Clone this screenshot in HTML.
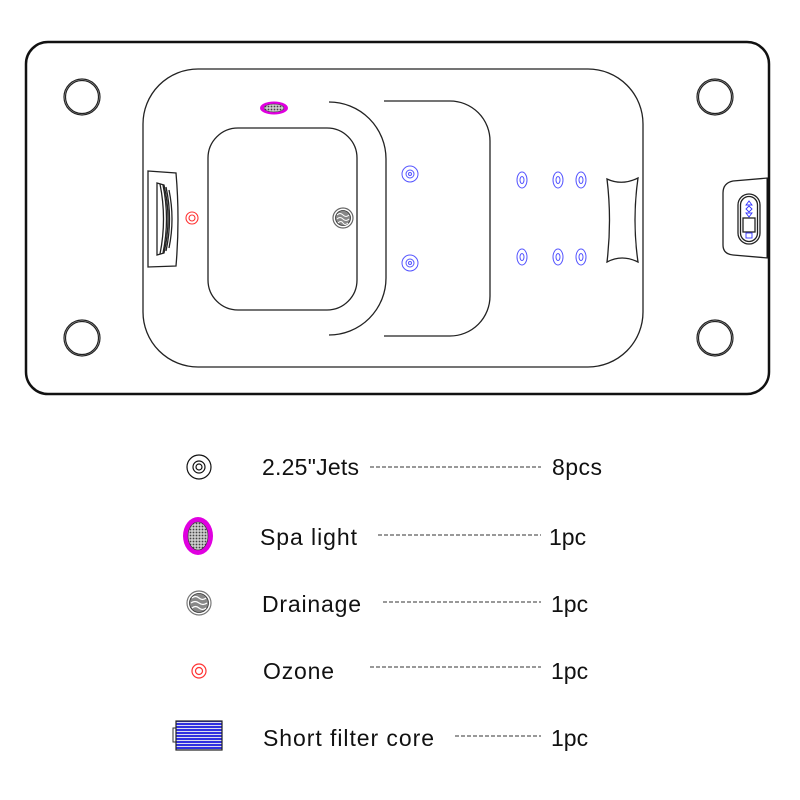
<!DOCTYPE html>
<html><head><meta charset="utf-8"><style>html,body{margin:0;padding:0;background:#fff}svg{display:block}</style></head><body>
<svg width="800" height="800" viewBox="0 0 800 800" xmlns="http://www.w3.org/2000/svg" font-family="Liberation Sans, sans-serif">
<defs>
<pattern id="hex" width="3" height="3" patternUnits="userSpaceOnUse"><rect width="3" height="3" fill="#ccc"/><circle cx="1.5" cy="1.5" r="0.9" fill="#444"/></pattern>
<pattern id="stripe" width="4" height="3" patternUnits="userSpaceOnUse"><rect width="4" height="3" fill="#dde"/><rect width="4" height="2" fill="#3030e0"/></pattern>
</defs>
<rect x="26" y="42" width="743" height="352" rx="22" fill="none" stroke="#111" stroke-width="2.5"/>
<line x1="768" y1="178" x2="768" y2="258" stroke="#111" stroke-width="3"/>
<g fill="none" stroke="#222" stroke-width="1.2">
<circle cx="82" cy="97" r="18"/><circle cx="82" cy="97" r="16.5"/>
<circle cx="715" cy="97" r="18"/><circle cx="715" cy="97" r="16.5"/>
<circle cx="82" cy="338" r="18"/><circle cx="82" cy="338" r="16.5"/>
<circle cx="715" cy="338" r="18"/><circle cx="715" cy="338" r="16.5"/>
</g>
<g fill="none" stroke="#222" stroke-width="1.3">
<rect x="143" y="69" width="500" height="298" rx="55"/>
<rect x="208" y="128" width="149" height="182" rx="30"/>
<path d="M329 102 A57 57 0 0 1 386 159 V278 A57 57 0 0 1 329 335"/>
<path d="M384 101 H450 A40 40 0 0 1 490 141 V296 A40 40 0 0 1 450 336 H384"/>
<path d="M148 171 L176 173 Q180 219 176 266 L148 267 Z"/>
<path d="M157 183 L164 185 Q172 219 164 253 L157 255 Z"/>
<path d="M160 184 Q167 219 160 254 M163 185 Q170 219 163 253 M166 187 Q173 219 166 251 M169 190 Q175 219 169 248"/>
<path d="M607 179 Q622 186 638 178 Q632 220 638 262 Q622 254 607 262 Q612 220 607 179 Z"/>
<path d="M768 178 L733 181 Q723 183 723 193 V245 Q723 254 733 255 L768 258"/>
<rect x="738" y="194" width="22" height="50" rx="11"/>
<rect x="740.5" y="196.5" width="17" height="45" rx="8.5"/>
<rect x="743" y="218" width="12" height="14"/>
</g>
<g fill="none" stroke="#33f" stroke-width="0.9">
<path d="M749 201 l-3 4 h6 z M749 206 l-3 3 l3 3 l3 -3 z M746 213 h6 l-3 4 z"/>
<rect x="746" y="233" width="6" height="5"/>
</g>
<ellipse cx="274" cy="108" rx="14" ry="6.5" fill="#e000e0"/>
<ellipse cx="274" cy="108" rx="10" ry="4" fill="url(#hex)" stroke="#333" stroke-width="0.5"/>
<circle cx="343" cy="218" r="10" fill="#fff" stroke="#666" stroke-width="1.2"/>
<circle cx="343" cy="218" r="7.5" fill="#888" stroke="#333" stroke-width="0.8"/>
<path d="M337 215 q3 -3 6 0 t6 0 M337 219 q3 -3 6 0 t6 0 M338 223 q3 -3 5 0 t5 0" stroke="#fff" fill="none" stroke-width="1"/>
<g fill="none" stroke="#f33" stroke-width="1.1">
<circle cx="192" cy="218" r="6"/><circle cx="192" cy="218" r="3"/>
</g>
<g fill="none" stroke="#55f" stroke-width="1">
<circle cx="410" cy="174" r="8"/><circle cx="410" cy="174" r="4"/><circle cx="410" cy="174" r="1.5"/>
<circle cx="410" cy="263" r="8"/><circle cx="410" cy="263" r="4"/><circle cx="410" cy="263" r="1.5"/>
</g>
<g fill="none" stroke="#55f" stroke-width="1">
<ellipse cx="522" cy="180" rx="5" ry="8"/><ellipse cx="522" cy="180" rx="2" ry="3.5"/>
<ellipse cx="558" cy="180" rx="5" ry="8"/><ellipse cx="558" cy="180" rx="2" ry="3.5"/>
<ellipse cx="581" cy="180" rx="5" ry="8"/><ellipse cx="581" cy="180" rx="2" ry="3.5"/>
<ellipse cx="522" cy="257" rx="5" ry="8"/><ellipse cx="522" cy="257" rx="2" ry="3.5"/>
<ellipse cx="558" cy="257" rx="5" ry="8"/><ellipse cx="558" cy="257" rx="2" ry="3.5"/>
<ellipse cx="581" cy="257" rx="5" ry="8"/><ellipse cx="581" cy="257" rx="2" ry="3.5"/>
</g>
<g fill="none" stroke="#111" stroke-width="1.2">
<circle cx="199" cy="467" r="12"/><circle cx="199" cy="467" r="6"/><circle cx="199" cy="467" r="3"/>
</g>
<ellipse cx="198" cy="536" rx="15" ry="19" fill="#e000e0"/>
<ellipse cx="198" cy="536" rx="10" ry="14" fill="url(#hex)" stroke="#333" stroke-width="0.6"/>
<circle cx="199" cy="603" r="12" fill="#fff" stroke="#777" stroke-width="1.2"/>
<circle cx="199" cy="603" r="9.5" fill="#888" stroke="#333" stroke-width="0.8"/>
<path d="M192 598 q3.5 -3 7 0 t7 0 M191 603 q4 -3 8 0 t8 0 M192 608 q3.5 -3 7 0 t7 0" stroke="#fff" fill="none" stroke-width="1.2"/>
<g fill="none" stroke="#f33" stroke-width="1.2"><circle cx="199" cy="671" r="7"/><circle cx="199" cy="671" r="3.5"/></g>
<rect x="173" y="728" width="5" height="14" fill="#fff" stroke="#333"/>
<rect x="176" y="721" width="46" height="29" fill="url(#stripe)" stroke="#222" stroke-width="1.2"/>
<g font-size="23" fill="#111">
<text x="262" y="475" textLength="97">2.25"Jets</text><text x="552" y="475" textLength="50">8pcs</text>
<text x="260" y="545" textLength="97">Spa light</text><text x="549" y="545">1pc</text>
<text x="262" y="612" textLength="99">Drainage</text><text x="551" y="612">1pc</text>
<text x="263" y="679" textLength="71">Ozone</text><text x="551" y="679">1pc</text>
<text x="263" y="746" textLength="171">Short filter core</text><text x="551" y="746">1pc</text>
</g>
<g stroke="#333" stroke-width="1" stroke-dasharray="4 2">
<line x1="370" y1="467" x2="541" y2="467"/>
<line x1="378" y1="535" x2="541" y2="535"/>
<line x1="383" y1="602" x2="541" y2="602"/>
<line x1="370" y1="667" x2="541" y2="667"/>
<line x1="455" y1="736" x2="541" y2="736"/>
</g>
</svg>
</body></html>
